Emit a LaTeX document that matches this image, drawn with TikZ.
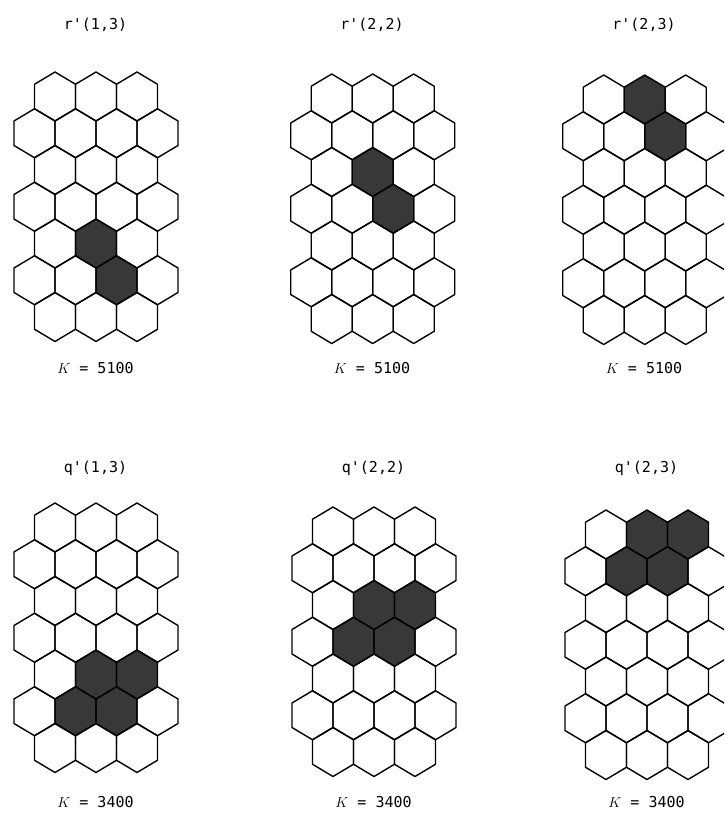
\documentclass[tikz,border=0pt]{standalone}
\usepackage{fontspec}
\setmonofont{DejaVu Sans Mono}
\usepackage{tikz}

\begin{document}
\begin{tikzpicture}[
    x=1pt, y=-1pt,
    font=\ttfamily\fontsize{15}{18}\selectfont,
    hexline/.style={draw=black, line width=1.4pt, line join=round},
    hexshade/.style={fill=black!78, draw=none},
    hexcell/.pic={
        \path[pic actions] (0,-24.5) -- (20.5,-12.25) -- (20.5,12.25) -- (0,24.5)
            -- (-20.5,12.25) -- (-20.5,-12.25) -- cycle;
    },
    title/.style={anchor=center, inner sep=1pt},
    klabel/.style={anchor=center, inner sep=1pt}
]

\useasboundingbox (0,0) rectangle (724,814);
\clip (0,0) rectangle (724,814);

% Grids: left edge, top, shaded cells (row/col)
\foreach \L/\T/\cells in {
    14/72/{5/2,6/3},
    290.7/74/{3/2,4/3},
    562.7/75/{1/2,2/3},
    14/503/{5/2,5/3,6/2,6/3},
    292/507/{3/2,3/3,4/2,4/3},
    565/510/{1/2,1/3,2/2,2/3}}{
    % shaded cells
    \foreach \r/\c in \cells {
        \pgfmathsetmacro\shift{mod(\r,2)==1 ? 0 : -20.5}
        \pgfmathsetmacro\hx{\L+41*\c+\shift}
        \pgfmathsetmacro\hy{\T+24.5+36.75*(\r-1)}
        \pic[hexshade] at (\hx,\hy) {hexcell};
    }
    % outlines
    \foreach \r in {1,...,7} {
        \pgfmathtruncatemacro\ncol{mod(\r,2)==1 ? 3 : 4}
        \pgfmathsetmacro\shift{mod(\r,2)==1 ? 0 : -20.5}
        \pgfmathsetmacro\hy{\T+24.5+36.75*(\r-1)}
        \foreach \c in {1,...,\ncol} {
            \pgfmathsetmacro\hx{\L+41*\c+\shift}
            \pic[hexline] at (\hx,\hy) {hexcell};
        }
    }
}

% Titles
\node[title] (r13) at (95.5, 25) {r'(1,3)};
\node[title] (r22) at (372, 25) {r'(2,2)};
\node[title] (r23) at (644, 25) {r'(2,3)};
\node[title] (q13) at (95.5, 468) {q'(1,3)};
\node[title] (q22) at (373.5, 468) {q'(2,2)};
\node[title] (q23) at (646.5, 468) {q'(2,3)};

% K values
\node[klabel] (kr13) at (95.5, 368) {$K$ = 5100};
\node[klabel] (kr22) at (372, 368) {$K$ = 5100};
\node[klabel] (kr23) at (644, 368) {$K$ = 5100};
\node[klabel] (kq13) at (95.5, 802) {$K$ = 3400};
\node[klabel] (kq22) at (373.5, 802) {$K$ = 3400};
\node[klabel] (kq23) at (646.5, 802) {$K$ = 3400};

\end{tikzpicture}
\end{document}
